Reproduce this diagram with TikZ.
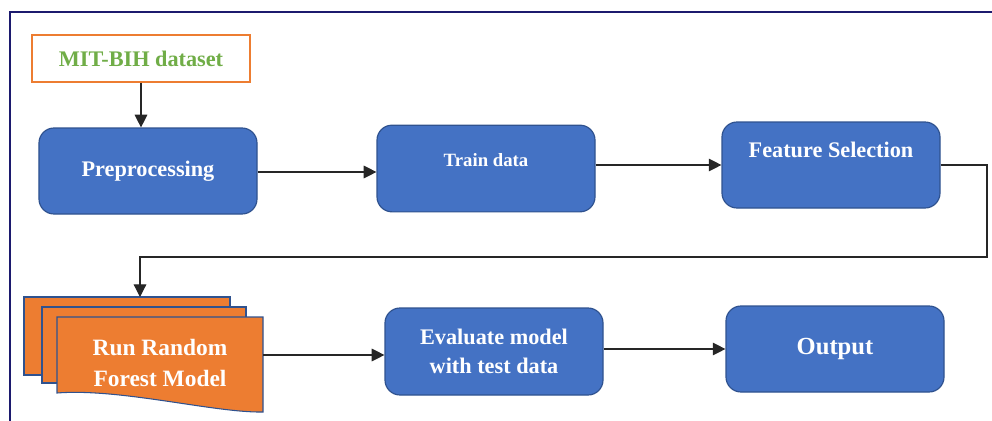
\documentclass[tikz,border=0pt]{standalone}
\usepackage{fontspec}
\setmainfont{Liberation Serif}[BoldFont={Liberation Serif Bold}]
\usetikzlibrary{arrows.meta}

\definecolor{boxblue}{HTML}{4472C4}
\definecolor{edgeblue}{HTML}{2F528F}
\definecolor{sheetorange}{HTML}{ED7D31}
\definecolor{dsgreen}{HTML}{70AD47}
\definecolor{frame}{HTML}{1C1A6E}

\tikzset{
  blk/.style={draw=edgeblue, fill=boxblue, line width=1pt, rounded corners=0.45cm,
    minimum width=6.54cm, minimum height=2.58cm, inner sep=0pt},
  txt/.style={text=white, font=\bfseries, align=center},
  sheet/.style={draw=edgeblue, fill=sheetorange, line width=0.9pt},
  arr/.style={-{Triangle[length=3.8mm,width=3.8mm]}, line width=1pt, black!85}
}

\begin{document}
\begin{tikzpicture}[x=0.03cm, y=-0.03cm]
        \useasboundingbox (0,0) rectangle (992,420);
        \begin{scope}
        \clip (0,0) rectangle (992,420);
        \draw[frame, line width=1.8pt] (10,12) rectangle (1005,435);
        \end{scope}

        \node[draw=sheetorange, fill=white, line width=1.2pt, minimum width=6.54cm,
          minimum height=1.41cm, inner sep=0pt, text=dsgreen,
          font=\fontsize{19}{22}\selectfont\bfseries] (mit) at (141,58.5) {MIT-BIH dataset};

        \node[blk, txt, font=\fontsize{19}{22}\selectfont\bfseries] (pre) at (148,171) {Preprocessing};
        \node[blk, minimum height=2.6cm] (train) at (486,168.5) {};
        \node[txt, font=\fontsize{16}{19}\selectfont\bfseries] (traintxt) at ([shift={(0,-8.5)}]train.center) {Train data};
        \node[blk] (feat) at (831,165) {};
        \node[txt, font=\fontsize{19}{22}\selectfont\bfseries] (feattxt) at ([shift={(0,-15)}]feat.center) {Feature Selection};

        % stacked documents
        \draw[sheet] (24,297) rectangle (230,375);
        \draw[sheet] (42,307) rectangle (246,383);
        \draw[sheet] (57,317) -- (263,317) -- (263,412)
          .. controls (215,413) and (120,388) .. (57,393) -- cycle;
        \node[txt, font=\fontsize{20}{26}\selectfont\bfseries] (rf) at (160,363) {Run Random\\Forest Model};
        \coordinate (rftop) at (140,297);
        \coordinate (rfout) at (263,355);

        \node[blk, txt, minimum height=2.61cm, font=\fontsize{19}{25}\selectfont\bfseries] (eval) at (494,351.5) {Evaluate model\\with test data};
        \node[blk, txt, font=\fontsize{21}{24}\selectfont\bfseries] (out) at (835,349) {Output};

        \coordinate (loop) at (987,257);

        \draw[arr] (mit) -- (mit |- pre.north);
        \draw[arr] ([yshift=-0.03cm]pre.east) -- ([yshift=-0.03cm]pre.east -| train.west);
        \draw[arr] (feat.west -| train.east) -- (feat.west);
        \draw[arr] (feat.east) -| (loop) -| (rftop);
        \draw[arr] (rfout) -- (rfout -| eval.west);
        \draw[arr] (out.west -| eval.east) -- (out.west);
\end{tikzpicture}
\end{document}
